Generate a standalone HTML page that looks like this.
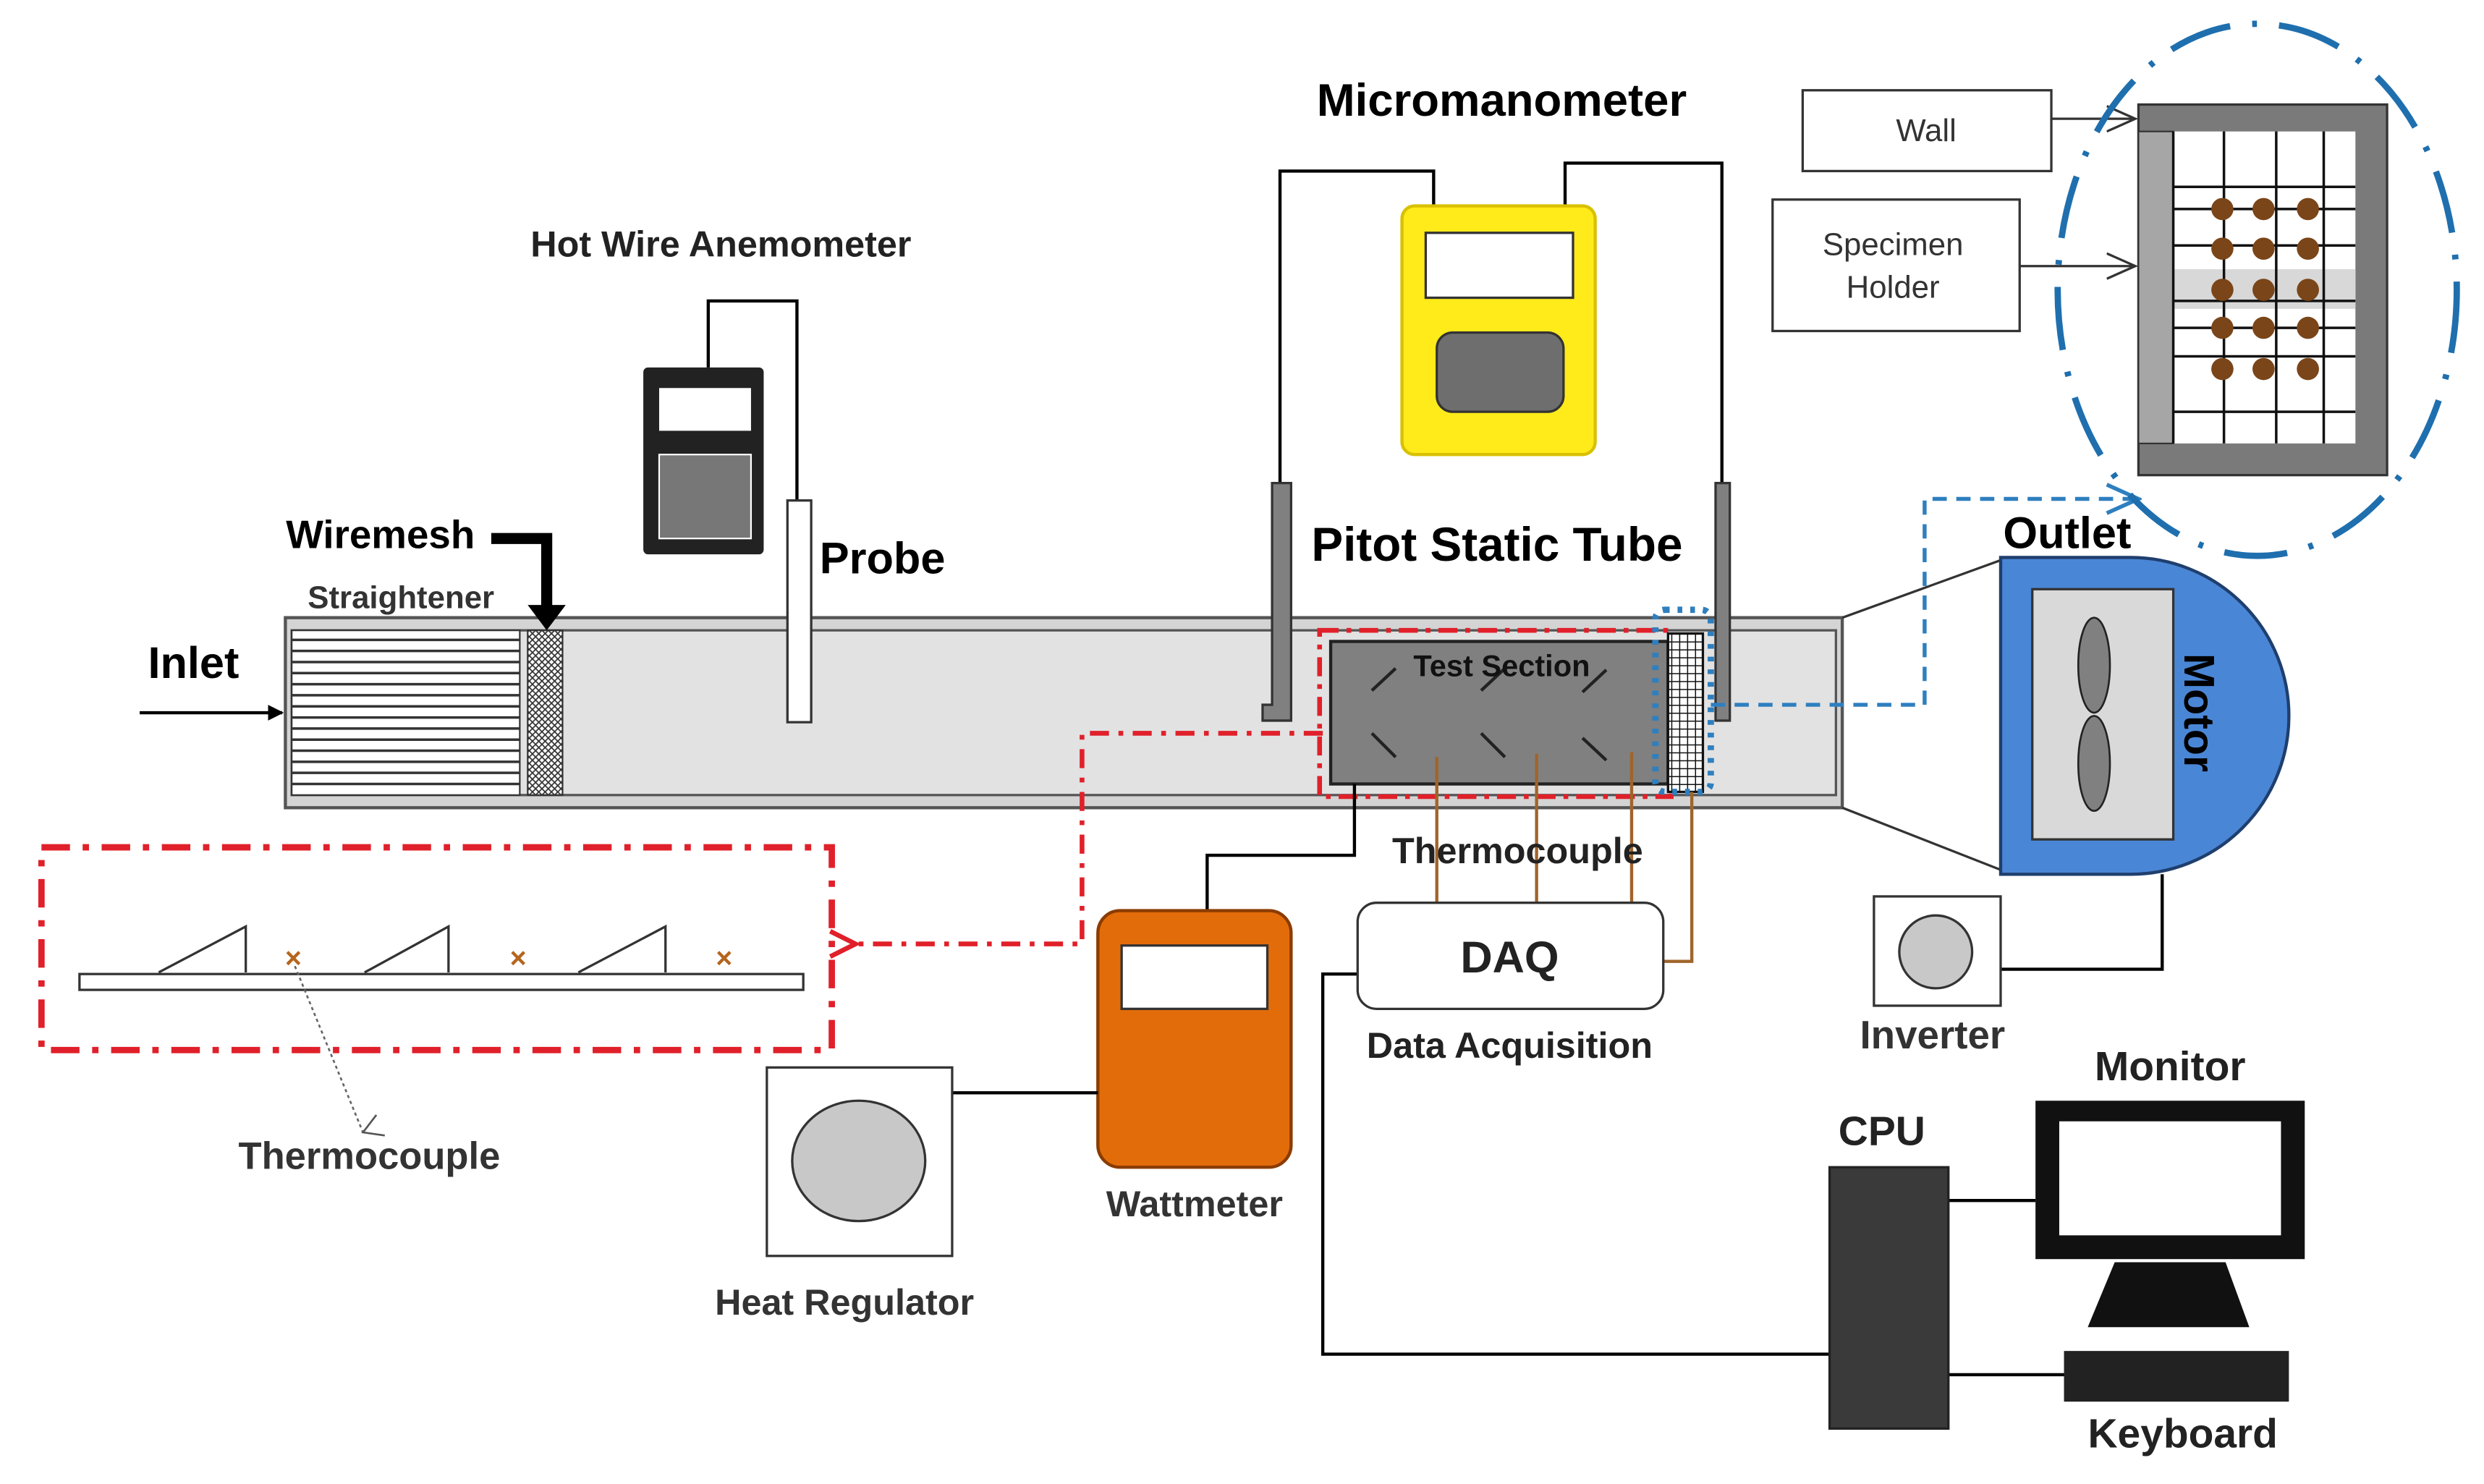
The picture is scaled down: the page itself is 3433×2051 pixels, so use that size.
<!DOCTYPE html>
<html><head><meta charset="utf-8"><style>html,body{margin:0;padding:0;background:#fff}svg{display:block}</style></head><body>
<svg width="3433" height="2051" viewBox="0 0 1568 937" xmlns="http://www.w3.org/2000/svg" font-family="Liberation Sans, sans-serif">
<defs>
<marker id="ab" markerWidth="10" markerHeight="10" refX="9" refY="5" orient="auto" markerUnits="userSpaceOnUse"><path d="M0,0 L10,5 L0,10 Z" fill="#000"/></marker>
<marker id="ao" markerWidth="20" markerHeight="20" refX="18" refY="10" orient="auto" markerUnits="userSpaceOnUse"><path d="M0,2 L18,10 L0,18" fill="none" stroke="#333" stroke-width="1.5"/></marker>
<marker id="ar" markerWidth="20" markerHeight="20" refX="2" refY="10" orient="auto" markerUnits="userSpaceOnUse"><path d="M18,2 L2,10 L18,18" fill="none" stroke="#e0202a" stroke-width="3"/></marker>
<marker id="abl" markerWidth="24" markerHeight="24" refX="22" refY="12" orient="auto" markerUnits="userSpaceOnUse"><path d="M2,3 L22,12 L2,21" fill="none" stroke="#2e7fbf" stroke-width="2.5"/></marker>
<marker id="ad" markerWidth="16" markerHeight="16" refX="8" refY="14" orient="auto" markerUnits="userSpaceOnUse"><path d="M1,2 L8,14 L15,2" fill="none" stroke="#555" stroke-width="1.2"/></marker>
<pattern id="mesh" width="4" height="4" patternUnits="userSpaceOnUse"><rect width="4" height="4" fill="#fff"/><path d="M0,0 L4,4 M4,0 L0,4" stroke="#333" stroke-width="0.8"/></pattern>
<pattern id="grid2" width="5" height="5" patternUnits="userSpaceOnUse"><rect width="5" height="5" fill="#fff"/><path d="M0,0 H5 M0,0 V5" stroke="#111" stroke-width="1.4"/></pattern>
</defs>

<rect x="180" y="390" width="983" height="120" fill="#d4d4d4" stroke="#555" stroke-width="2"/>
<rect x="184" y="398" width="975" height="104" fill="#e2e2e2" stroke="#555" stroke-width="1.5"/>
<rect x="184" y="398" width="144" height="104" fill="#fff" stroke="#333" stroke-width="1"/>
<g stroke="#333" stroke-width="1.6">
<line x1="184" y1="404" x2="328" y2="404"/><line x1="184" y1="411" x2="328" y2="411"/><line x1="184" y1="418" x2="328" y2="418"/><line x1="184" y1="425" x2="328" y2="425"/><line x1="184" y1="432" x2="328" y2="432"/><line x1="184" y1="439" x2="328" y2="439"/><line x1="184" y1="446" x2="328" y2="446"/><line x1="184" y1="453" x2="328" y2="453"/><line x1="184" y1="460" x2="328" y2="460"/><line x1="184" y1="467" x2="328" y2="467"/><line x1="184" y1="474" x2="328" y2="474"/><line x1="184" y1="481" x2="328" y2="481"/><line x1="184" y1="488" x2="328" y2="488"/><line x1="184" y1="495" x2="328" y2="495"/>
</g>
<rect x="333" y="398" width="22" height="104" fill="url(#mesh)" stroke="#333" stroke-width="1"/>
<line x1="88" y1="450" x2="178" y2="450" stroke="#000" stroke-width="2" marker-end="url(#ab)"/>
<text x="122" y="428" font-size="28" font-weight="bold" text-anchor="middle">Inlet</text>
<path d="M310,340 H345 V385" fill="none" stroke="#000" stroke-width="7"/>
<path d="M333,382 L357,382 L345,398 Z" fill="#000"/>
<text x="240" y="346" font-size="25" font-weight="bold" text-anchor="middle">Wiremesh</text>
<text x="253" y="384" font-size="20" font-weight="bold" fill="#333" text-anchor="middle">Straightener</text>

<path d="M447,232 V190 H503 V316" fill="none" stroke="#000" stroke-width="2"/>
<rect x="406" y="232" width="76" height="118" fill="#222" rx="3"/>
<rect x="416" y="245" width="58" height="27" fill="#fff"/>
<rect x="416" y="287" width="58" height="53" fill="#777" stroke="#fff" stroke-width="1"/>
<rect x="497" y="316" width="15" height="140" fill="#fff" stroke="#333" stroke-width="1.5"/>
<text x="455" y="162" font-size="23" font-weight="bold" fill="#222" text-anchor="middle">Hot Wire Anemometer</text>
<text x="557" y="362" font-size="28" font-weight="bold" text-anchor="middle">Probe</text>

<path d="M905,130 V108 H808 V305" fill="none" stroke="#000" stroke-width="2"/>
<path d="M988,130 V103 H1087 V305" fill="none" stroke="#000" stroke-width="2"/>
<rect x="885" y="130" width="122" height="157" rx="8" fill="#ffeb1a" stroke="#d9c000" stroke-width="2"/>
<rect x="900" y="147" width="93" height="41" fill="#fff" stroke="#333" stroke-width="1.5"/>
<rect x="907" y="210" width="80" height="50" rx="10" fill="#6e6e6e" stroke="#333" stroke-width="1.5"/>
<path d="M803,305 H815 V455 H797 V445 H803 Z" fill="#808080" stroke="#333" stroke-width="1.5"/>
<rect x="1083" y="305" width="9" height="150" fill="#808080" stroke="#333" stroke-width="1.5"/>
<text x="948" y="73" font-size="29" font-weight="bold" text-anchor="middle">Micromanometer</text>
<text x="945" y="354" font-size="30" font-weight="bold" text-anchor="middle">Pitot Static Tube</text>

<rect x="840" y="405" width="213" height="90" fill="#808080" stroke="#222" stroke-width="2"/>
<g stroke="#222" stroke-width="2">
<line x1="866" y1="436" x2="881" y2="422"/><line x1="935" y1="436" x2="950" y2="422"/><line x1="999" y1="437" x2="1014" y2="423"/>
<line x1="866" y1="463" x2="881" y2="478"/><line x1="935" y1="463" x2="950" y2="478"/><line x1="999" y1="466" x2="1014" y2="480"/>
</g>
<text x="948" y="427" font-size="19" font-weight="bold" fill="#111" text-anchor="middle">Test Section</text>
<rect x="833" y="398" width="222" height="105" fill="none" stroke="#e0202a" stroke-width="3" stroke-dasharray="12,5,3,5"/>
<rect x="1053" y="400" width="22" height="100" fill="url(#grid2)" stroke="#111" stroke-width="1.5"/>
<rect x="1045" y="385" width="35" height="115" rx="6" fill="none" stroke="#2e7fbf" stroke-width="4" stroke-dasharray="3,5"/>
<g stroke="#a0642a" stroke-width="2" fill="none">
<line x1="907" y1="478" x2="907" y2="570"/><line x1="970" y1="476" x2="970" y2="570"/><line x1="1030" y1="475" x2="1030" y2="570"/>
<path d="M1068,500 V607 H1050"/>
</g>
<text x="958" y="545" font-size="23" font-weight="bold" fill="#222" text-anchor="middle">Thermocouple</text>
<path d="M1080,445 H1215 V315 H1350" fill="none" stroke="#2e7fbf" stroke-width="2.5" stroke-dasharray="9,6" marker-end="url(#abl)"/>

<line x1="1163" y1="390" x2="1265" y2="353" stroke="#333" stroke-width="1.5"/>
<line x1="1163" y1="510" x2="1265" y2="550" stroke="#333" stroke-width="1.5"/>
<path d="M1263,352 H1345 A100,100 0 0 1 1345,552 H1263 Z" fill="#4a86d6" stroke="#1f3f6e" stroke-width="2"/>
<rect x="1283" y="372" width="89" height="158" fill="#d9d9d9" stroke="#333" stroke-width="1.5"/>
<ellipse cx="1322" cy="420" rx="10" ry="30" fill="#808080" stroke="#222" stroke-width="1.2"/>
<ellipse cx="1322" cy="482" rx="10" ry="30" fill="#808080" stroke="#222" stroke-width="1.2"/>
<text x="1388" y="450" font-size="27" font-weight="bold" text-anchor="middle" transform="rotate(90 1388 450)" dy="9">Motor</text>
<text x="1305" y="346" font-size="28" font-weight="bold" text-anchor="middle">Outlet</text>

<rect x="1138" y="57" width="157" height="51" fill="#fff" stroke="#333" stroke-width="1.5"/>
<text x="1216" y="89" font-size="20" fill="#333" text-anchor="middle">Wall</text>
<rect x="1119" y="126" width="156" height="83" fill="#fff" stroke="#333" stroke-width="1.5"/>
<text x="1195" y="161" font-size="20" fill="#333" text-anchor="middle">Specimen</text>
<text x="1195" y="188" font-size="20" fill="#333" text-anchor="middle">Holder</text>
<rect x="1350" y="66" width="157" height="234" fill="#7a7a7a" stroke="#333" stroke-width="1.5"/>
<rect x="1350" y="83" width="22" height="197" fill="#a6a6a6" stroke="#333" stroke-width="1"/>
<rect x="1372" y="83" width="115" height="197" fill="#fff"/>
<rect x="1372" y="170" width="115" height="25" fill="#d8d8d8"/>
<g stroke="#111" stroke-width="1.6">
<line x1="1372" y1="83" x2="1372" y2="280"/><line x1="1404" y1="83" x2="1404" y2="280"/><line x1="1437" y1="83" x2="1437" y2="280"/><line x1="1467" y1="83" x2="1467" y2="280"/>
<line x1="1372" y1="118" x2="1487" y2="118"/><line x1="1372" y1="155" x2="1487" y2="155"/><line x1="1372" y1="190" x2="1487" y2="190"/><line x1="1372" y1="225" x2="1487" y2="225"/><line x1="1372" y1="260" x2="1487" y2="260"/><line x1="1372" y1="132" x2="1487" y2="132"/><line x1="1372" y1="207" x2="1487" y2="207"/>
</g>
<g fill="#7a4518">
<circle cx="1403" cy="132" r="7"/><circle cx="1429" cy="132" r="7"/><circle cx="1457" cy="132" r="7"/>
<circle cx="1403" cy="157" r="7"/><circle cx="1429" cy="157" r="7"/><circle cx="1457" cy="157" r="7"/>
<circle cx="1403" cy="183" r="7"/><circle cx="1429" cy="183" r="7"/><circle cx="1457" cy="183" r="7"/>
<circle cx="1403" cy="207" r="7"/><circle cx="1429" cy="207" r="7"/><circle cx="1457" cy="207" r="7"/>
<circle cx="1403" cy="233" r="7"/><circle cx="1429" cy="233" r="7"/><circle cx="1457" cy="233" r="7"/>
</g>
<line x1="1295" y1="75" x2="1348" y2="75" stroke="#333" stroke-width="1.5" marker-end="url(#ao)"/>
<line x1="1275" y1="168" x2="1348" y2="168" stroke="#333" stroke-width="1.5" marker-end="url(#ao)"/>
<ellipse cx="1425" cy="183" rx="126" ry="168" fill="none" stroke="#1f6fae" stroke-width="4" stroke-dasharray="40,14,3,14"/>

<path d="M835,463 H683 V596 H540" fill="none" stroke="#e0202a" stroke-width="3" stroke-dasharray="12,6,3,6" marker-end="url(#ar)"/>
<rect x="26" y="535" width="499" height="128" fill="none" stroke="#e0202a" stroke-width="4" stroke-dasharray="18,8,4,8"/>
<rect x="50" y="615" width="457" height="10" fill="#fff" stroke="#333" stroke-width="1.5"/>
<g fill="#fff" stroke="#333" stroke-width="1.5">
<path d="M100,614 L155,585 L155,614"/><path d="M230,614 L283,585 L283,614"/><path d="M365,614 L420,585 L420,614"/>
</g>
<g font-size="18" font-weight="bold" fill="#b5651d" text-anchor="middle"><text x="185" y="611">×</text><text x="327" y="611">×</text><text x="457" y="611">×</text></g>
<line x1="186" y1="610" x2="229" y2="715" stroke="#666" stroke-width="1.2" stroke-dasharray="2,2" marker-end="url(#ad)"/>
<text x="233" y="738" font-size="24" font-weight="bold" fill="#333" text-anchor="middle">Thermocouple</text>

<path d="M855,495 V540 H762 V575" fill="none" stroke="#000" stroke-width="2"/>
<rect x="693" y="575" width="122" height="162" rx="14" fill="#e36c0a" stroke="#8a3c00" stroke-width="2"/>
<rect x="708" y="597" width="92" height="40" fill="#fff" stroke="#333" stroke-width="1.5"/>
<text x="754" y="768" font-size="23" font-weight="bold" fill="#333" text-anchor="middle">Wattmeter</text>
<line x1="601" y1="690" x2="693" y2="690" stroke="#000" stroke-width="2"/>
<rect x="484" y="674" width="117" height="119" fill="#fff" stroke="#333" stroke-width="1.5"/>
<ellipse cx="542" cy="733" rx="42" ry="38" fill="#c8c8c8" stroke="#333" stroke-width="1.5"/>
<text x="533" y="830" font-size="23" font-weight="bold" fill="#333" text-anchor="middle">Heat Regulator</text>

<path d="M857,615 H835 V855 H1155" fill="none" stroke="#000" stroke-width="2"/>
<rect x="857" y="570" width="193" height="67" rx="12" fill="#fff" stroke="#333" stroke-width="1.5"/>
<text x="953" y="614" font-size="28" font-weight="bold" fill="#222" text-anchor="middle">DAQ</text>
<text x="953" y="668" font-size="23" font-weight="bold" fill="#222" text-anchor="middle">Data Acquisition</text>

<path d="M1365,552 V612 H1263" fill="none" stroke="#000" stroke-width="2"/>
<rect x="1183" y="566" width="80" height="69" fill="#fff" stroke="#333" stroke-width="1.5"/>
<circle cx="1222" cy="601" r="23" fill="#c8c8c8" stroke="#333" stroke-width="1.5"/>
<text x="1220" y="662" font-size="25" font-weight="bold" fill="#333" text-anchor="middle">Inverter</text>

<line x1="1230" y1="758" x2="1285" y2="758" stroke="#000" stroke-width="2"/>
<line x1="1230" y1="868" x2="1303" y2="868" stroke="#000" stroke-width="2"/>
<rect x="1155" y="737" width="75" height="165" fill="#3a3a3a" stroke="#222" stroke-width="1.5"/>
<text x="1188" y="723" font-size="26" font-weight="bold" fill="#222" text-anchor="middle">CPU</text>
<rect x="1285" y="695" width="170" height="100" fill="#111"/>
<rect x="1300" y="708" width="140" height="72" fill="#fff"/>
<path d="M1335,797 H1405 L1420,838 H1318 Z" fill="#111"/>
<rect x="1303" y="853" width="142" height="32" fill="#222"/>
<text x="1370" y="682" font-size="26" font-weight="bold" fill="#222" text-anchor="middle">Monitor</text>
<text x="1378" y="914" font-size="26" font-weight="bold" fill="#222" text-anchor="middle">Keyboard</text>
</svg>
</body></html>
